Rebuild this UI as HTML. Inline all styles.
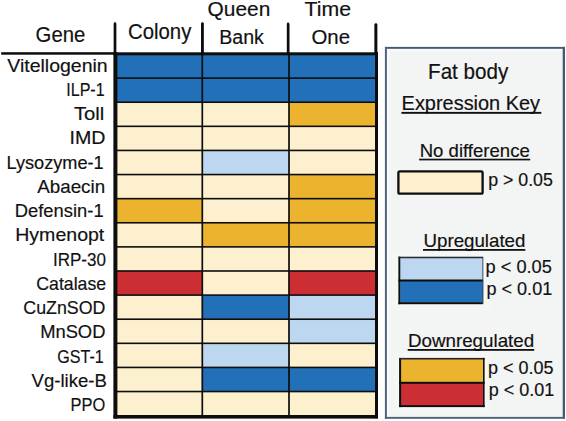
<!DOCTYPE html>
<html><head><meta charset="utf-8"><style>
html,body{margin:0;padding:0;background:#fff;width:566px;height:421px;overflow:hidden}
svg{display:block}
text{font-family:"Liberation Sans",sans-serif}
</style></head><body>
<svg width="566" height="421" viewBox="0 0 566 421">
<rect width="566" height="421" fill="#fff"/>
<rect x="115.40" y="54.00" width="86.90" height="24.11" fill="#2270b7"/>
<rect x="202.30" y="54.00" width="86.70" height="24.11" fill="#2270b7"/>
<rect x="289.00" y="54.00" width="87.50" height="24.11" fill="#2270b7"/>
<rect x="115.40" y="78.11" width="86.90" height="24.11" fill="#2270b7"/>
<rect x="202.30" y="78.11" width="86.70" height="24.11" fill="#2270b7"/>
<rect x="289.00" y="78.11" width="87.50" height="24.11" fill="#2270b7"/>
<rect x="115.40" y="102.22" width="86.90" height="24.11" fill="#fdf0cf"/>
<rect x="202.30" y="102.22" width="86.70" height="24.11" fill="#fdf0cf"/>
<rect x="289.00" y="102.22" width="87.50" height="24.11" fill="#ecb42e"/>
<rect x="115.40" y="126.33" width="86.90" height="24.11" fill="#fdf0cf"/>
<rect x="202.30" y="126.33" width="86.70" height="24.11" fill="#fdf0cf"/>
<rect x="289.00" y="126.33" width="87.50" height="24.11" fill="#fdf0cf"/>
<rect x="115.40" y="150.44" width="86.90" height="24.11" fill="#fdf0cf"/>
<rect x="202.30" y="150.44" width="86.70" height="24.11" fill="#bcd7ef"/>
<rect x="289.00" y="150.44" width="87.50" height="24.11" fill="#fdf0cf"/>
<rect x="115.40" y="174.55" width="86.90" height="24.11" fill="#fdf0cf"/>
<rect x="202.30" y="174.55" width="86.70" height="24.11" fill="#fdf0cf"/>
<rect x="289.00" y="174.55" width="87.50" height="24.11" fill="#ecb42e"/>
<rect x="115.40" y="198.66" width="86.90" height="24.11" fill="#ecb42e"/>
<rect x="202.30" y="198.66" width="86.70" height="24.11" fill="#fdf0cf"/>
<rect x="289.00" y="198.66" width="87.50" height="24.11" fill="#ecb42e"/>
<rect x="115.40" y="222.77" width="86.90" height="24.11" fill="#fdf0cf"/>
<rect x="202.30" y="222.77" width="86.70" height="24.11" fill="#ecb42e"/>
<rect x="289.00" y="222.77" width="87.50" height="24.11" fill="#ecb42e"/>
<rect x="115.40" y="246.88" width="86.90" height="24.11" fill="#fdf0cf"/>
<rect x="202.30" y="246.88" width="86.70" height="24.11" fill="#fdf0cf"/>
<rect x="289.00" y="246.88" width="87.50" height="24.11" fill="#fdf0cf"/>
<rect x="115.40" y="270.99" width="86.90" height="24.11" fill="#cd2e33"/>
<rect x="202.30" y="270.99" width="86.70" height="24.11" fill="#fdf0cf"/>
<rect x="289.00" y="270.99" width="87.50" height="24.11" fill="#cd2e33"/>
<rect x="115.40" y="295.10" width="86.90" height="24.11" fill="#fdf0cf"/>
<rect x="202.30" y="295.10" width="86.70" height="24.11" fill="#2270b7"/>
<rect x="289.00" y="295.10" width="87.50" height="24.11" fill="#bcd7ef"/>
<rect x="115.40" y="319.21" width="86.90" height="24.11" fill="#fdf0cf"/>
<rect x="202.30" y="319.21" width="86.70" height="24.11" fill="#fdf0cf"/>
<rect x="289.00" y="319.21" width="87.50" height="24.11" fill="#bcd7ef"/>
<rect x="115.40" y="343.32" width="86.90" height="24.11" fill="#fdf0cf"/>
<rect x="202.30" y="343.32" width="86.70" height="24.11" fill="#bcd7ef"/>
<rect x="289.00" y="343.32" width="87.50" height="24.11" fill="#fdf0cf"/>
<rect x="115.40" y="367.43" width="86.90" height="24.11" fill="#fdf0cf"/>
<rect x="202.30" y="367.43" width="86.70" height="24.11" fill="#2270b7"/>
<rect x="289.00" y="367.43" width="87.50" height="24.11" fill="#2270b7"/>
<rect x="115.40" y="391.54" width="86.90" height="24.11" fill="#fdf0cf"/>
<rect x="202.30" y="391.54" width="86.70" height="24.11" fill="#fdf0cf"/>
<rect x="289.00" y="391.54" width="87.50" height="24.11" fill="#fdf0cf"/>
<rect x="115.40" y="77.31" width="261.10" height="1.60" fill="#0d0d0d"/>
<rect x="115.40" y="101.42" width="261.10" height="1.60" fill="#0d0d0d"/>
<rect x="115.40" y="125.53" width="261.10" height="1.60" fill="#0d0d0d"/>
<rect x="115.40" y="149.64" width="261.10" height="1.60" fill="#0d0d0d"/>
<rect x="115.40" y="173.75" width="261.10" height="1.60" fill="#0d0d0d"/>
<rect x="115.40" y="197.86" width="261.10" height="1.60" fill="#0d0d0d"/>
<rect x="115.40" y="221.97" width="261.10" height="1.60" fill="#0d0d0d"/>
<rect x="115.40" y="246.08" width="261.10" height="1.60" fill="#0d0d0d"/>
<rect x="115.40" y="270.19" width="261.10" height="1.60" fill="#0d0d0d"/>
<rect x="115.40" y="294.30" width="261.10" height="1.60" fill="#0d0d0d"/>
<rect x="115.40" y="318.41" width="261.10" height="1.60" fill="#0d0d0d"/>
<rect x="115.40" y="342.52" width="261.10" height="1.60" fill="#0d0d0d"/>
<rect x="115.40" y="366.63" width="261.10" height="1.60" fill="#0d0d0d"/>
<rect x="115.40" y="390.74" width="261.10" height="1.60" fill="#0d0d0d"/>
<rect x="201.45" y="53.00" width="1.70" height="363.00" fill="#0d0d0d"/>
<rect x="288.15" y="53.00" width="1.70" height="363.00" fill="#0d0d0d"/>
<rect x="113.8" y="22.3" width="2.4" height="31.7" rx="1.1" fill="#0d0d0d"/>
<rect x="113.80" y="23.80" width="2.40" height="30.20" fill="#0d0d0d"/>
<rect x="201.1" y="22.2" width="2.5" height="31.8" rx="1.1" fill="#0d0d0d"/>
<rect x="201.10" y="23.70" width="2.50" height="30.30" fill="#0d0d0d"/>
<rect x="286.9" y="22.6" width="2.4" height="31.4" rx="1.1" fill="#0d0d0d"/>
<rect x="286.90" y="24.10" width="2.40" height="29.90" fill="#0d0d0d"/>
<rect x="374.6" y="23.2" width="2.6" height="30.8" rx="1.1" fill="#0d0d0d"/>
<rect x="374.60" y="24.70" width="2.60" height="29.30" fill="#0d0d0d"/>
<rect x="1.20" y="52.20" width="113.00" height="2.50" fill="#0d0d0d"/>
<rect x="113.40" y="52.30" width="264.60" height="3.00" fill="#0d0d0d"/>
<rect x="113.40" y="52.30" width="4.00" height="366.20" fill="#0d0d0d"/>
<rect x="375.00" y="52.30" width="3.00" height="366.00" fill="#0d0d0d"/>
<rect x="113.40" y="415.00" width="264.60" height="3.60" fill="#0d0d0d"/>
<text transform="translate(35.58,41.70) scale(0.9012,1)" font-size="22.57" fill="#111" stroke="#111" stroke-width="0.18">Gene</text>
<text transform="translate(127.98,39.20) scale(0.9315,1)" font-size="21.86" fill="#111" stroke="#111" stroke-width="0.18">Colony</text>
<text transform="translate(207.56,15.50) scale(1.0376,1)" font-size="20.14" fill="#111" stroke="#111" stroke-width="0.18">Queen</text>
<text transform="translate(219.23,43.60) scale(0.9520,1)" font-size="20.58" fill="#111" stroke="#111" stroke-width="0.18">Bank</text>
<text transform="translate(304.57,16.10) scale(1.0194,1)" font-size="20.87" fill="#111" stroke="#111" stroke-width="0.18">Time</text>
<text transform="translate(311.38,43.60) scale(1.0078,1)" font-size="20.29" fill="#111" stroke="#111" stroke-width="0.18">One</text>
<text transform="translate(7.30,71.50) scale(1.0354,1)" font-size="18.84" fill="#111" stroke="#111" stroke-width="0.18">Vitellogenin</text>
<text transform="translate(66.26,95.76) scale(0.8521,1)" font-size="18.84" fill="#111" stroke="#111" stroke-width="0.18">ILP-1</text>
<text transform="translate(73.89,120.02) scale(1.0765,1)" font-size="18.84" fill="#111" stroke="#111" stroke-width="0.18">Toll</text>
<text transform="translate(69.53,144.28) scale(1.0428,1)" font-size="18.84" fill="#111" stroke="#111" stroke-width="0.18">IMD</text>
<text transform="translate(6.45,168.54) scale(0.9651,1)" font-size="18.84" fill="#111" stroke="#111" stroke-width="0.18">Lysozyme-1</text>
<text transform="translate(37.20,192.80) scale(0.9987,1)" font-size="18.84" fill="#111" stroke="#111" stroke-width="0.18">Abaecin</text>
<text transform="translate(14.73,217.06) scale(0.9759,1)" font-size="18.84" fill="#111" stroke="#111" stroke-width="0.18">Defensin-1</text>
<text transform="translate(15.24,241.32) scale(1.0378,1)" font-size="18.84" fill="#111" stroke="#111" stroke-width="0.18">Hymenopt</text>
<text transform="translate(52.97,265.58) scale(0.9033,1)" font-size="18.84" fill="#111" stroke="#111" stroke-width="0.18">IRP-30</text>
<text transform="translate(36.32,289.84) scale(0.9388,1)" font-size="18.84" fill="#111" stroke="#111" stroke-width="0.18">Catalase</text>
<text transform="translate(23.31,314.10) scale(0.9452,1)" font-size="18.84" fill="#111" stroke="#111" stroke-width="0.18">CuZnSOD</text>
<text transform="translate(40.13,338.36) scale(0.9749,1)" font-size="18.84" fill="#111" stroke="#111" stroke-width="0.18">MnSOD</text>
<text transform="translate(57.19,362.62) scale(0.8545,1)" font-size="18.84" fill="#111" stroke="#111" stroke-width="0.18">GST-1</text>
<text transform="translate(31.61,386.88) scale(0.9859,1)" font-size="18.84" fill="#111" stroke="#111" stroke-width="0.18">Vg-like-B</text>
<text transform="translate(70.49,411.14) scale(0.8717,1)" font-size="18.84" fill="#111" stroke="#111" stroke-width="0.18">PPO</text>
<rect x="385.00" y="47.00" width="180.00" height="372.00" fill="#f3f4f4"/>
<rect x="387.00" y="48.70" width="175.50" height="2.50" fill="#f7f9fb"/>
<rect x="387.00" y="48.70" width="2.50" height="368.00" fill="#f7f9fb"/>
<rect x="385.00" y="46.90" width="180.00" height="1.90" fill="#46596e"/>
<rect x="384.90" y="46.90" width="2.00" height="371.90" fill="#506479"/>
<rect x="562.70" y="46.90" width="2.30" height="371.90" fill="#485872"/>
<rect x="384.90" y="416.90" width="180.00" height="1.90" fill="#526478"/>
<text transform="translate(428.05,79.40) scale(0.9750,1)" font-size="21.16" fill="#111" stroke="#111" stroke-width="0.18">Fat body</text>
<text transform="translate(401.60,109.70) scale(0.9496,1)" font-size="21.01" fill="#111" stroke="#111" stroke-width="0.18">Expression Key</text>
<rect x="401.40" y="111.90" width="139.90" height="1.90" fill="#111"/>
<text transform="translate(419.71,156.60) scale(1.0089,1)" font-size="18.41" fill="#111" stroke="#111" stroke-width="0.18">No difference</text>
<rect x="419.10" y="158.70" width="111.10" height="1.70" fill="#111"/>
<rect x="392.00" y="252.00" width="100.00" height="58.00" fill="#f5f6f6"/>
<rect x="393.00" y="353.00" width="98.00" height="60.00" fill="#f5f6f6"/>
<rect x="398.4" y="171.3" width="84.2" height="22.4" rx="1.5" fill="#fdf0cf" stroke="#0d0d0d" stroke-width="2.3"/>
<text transform="translate(488.14,185.50) scale(1.0045,1)" font-size="17.71" fill="#111" stroke="#111" stroke-width="0.18">p &gt; 0.05</text>
<text transform="translate(423.50,246.60) scale(1.0170,1)" font-size="18.41" fill="#111" stroke="#111" stroke-width="0.18">Upregulated</text>
<rect x="423.00" y="249.00" width="102.30" height="1.80" fill="#111"/>
<rect x="400.20" y="258.20" width="83.00" height="22.30" fill="#bcd7ef"/>
<rect x="400.20" y="280.50" width="83.00" height="22.00" fill="#2270b7"/>
<rect x="398.40" y="256.60" width="1.90" height="47.60" fill="#0d0d0d"/>
<rect x="398.40" y="256.70" width="84.70" height="1.60" fill="#2a2f35"/>
<rect x="398.40" y="279.50" width="84.70" height="2.00" fill="#0d0d0d"/>
<rect x="398.40" y="302.20" width="84.70" height="2.00" fill="#0d0d0d"/>
<rect x="482.40" y="257.00" width="0.90" height="47.00" fill="#3a4550"/>
<text transform="translate(485.52,273.10) scale(0.9735,1)" font-size="18.71" fill="#111" stroke="#111" stroke-width="0.18">p &lt; 0.05</text>
<text transform="translate(486.53,295.00) scale(0.9792,1)" font-size="18.43" fill="#111" stroke="#111" stroke-width="0.18">p &lt; 0.01</text>
<text transform="translate(407.90,346.70) scale(1.0126,1)" font-size="18.55" fill="#111" stroke="#111" stroke-width="0.18">Downregulated</text>
<rect x="407.70" y="349.00" width="126.50" height="1.80" fill="#111"/>
<rect x="401.00" y="359.50" width="82.50" height="23.00" fill="#ecb42e"/>
<rect x="401.00" y="382.50" width="82.50" height="23.00" fill="#cd2e33"/>
<rect x="399.10" y="357.90" width="2.00" height="49.20" fill="#0d0d0d"/>
<rect x="399.10" y="357.90" width="85.50" height="1.70" fill="#2e2410"/>
<rect x="399.10" y="381.80" width="85.50" height="2.00" fill="#0d0d0d"/>
<rect x="399.10" y="405.10" width="85.50" height="2.00" fill="#0d0d0d"/>
<rect x="483.00" y="357.90" width="1.60" height="49.20" fill="#0d0d0d"/>
<text transform="translate(487.93,374.20) scale(0.9703,1)" font-size="18.57" fill="#111" stroke="#111" stroke-width="0.18">p &lt; 0.05</text>
<text transform="translate(488.73,396.10) scale(0.9915,1)" font-size="18.14" fill="#111" stroke="#111" stroke-width="0.18">p &lt; 0.01</text>
</svg>
</body></html>
